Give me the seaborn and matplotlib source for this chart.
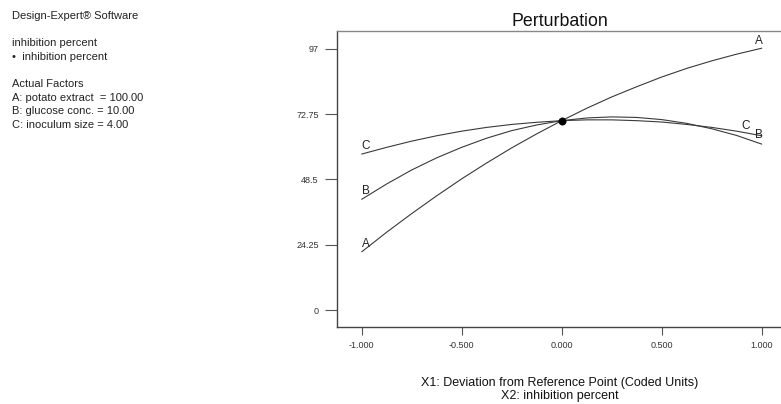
import seaborn as sns
import pandas as pd
import matplotlib.pyplot as plt

# deviation from reference point (coded units)
deviation = [-1.0, -0.875, -0.75, -0.625, -0.5, -0.375, -0.25, -0.125, 0.0,
             0.125, 0.25, 0.375, 0.5, 0.625, 0.75, 0.875, 1.0]
# inhibition percent
factor_a = [21.6, 28.9, 35.8, 42.4, 48.7, 54.6, 60.2, 65.4, 70.3,
            74.9, 79.1, 82.9, 86.5, 89.7, 92.5, 95.0, 97.2]
factor_b = [41.1, 46.8, 52.0, 56.5, 60.4, 63.8, 66.6, 68.7, 70.3,
            71.3, 71.7, 71.5, 70.7, 69.3, 67.3, 64.8, 61.6]
factor_c = [57.9, 60.4, 62.7, 64.7, 66.4, 67.8, 68.9, 69.7, 70.3,
            70.6, 70.6, 70.3, 69.8, 68.9, 67.8, 66.4, 64.7]
ref_x = [0.0]
ref_y = [70.3]
y_ticks = [0, 24.25, 48.5, 72.75, 97]
y_tick_labels = ['0', '24.25', '48.5', '72.75', '97']
x_ticks = [-1.0, -0.5, 0.0, 0.5, 1.0]
x_tick_labels = ['-1.000', '-0.500', '0.000', '0.500', '1.000']

n = len(deviation)
df = pd.DataFrame({
    'x': deviation * 3,
    'y': factor_a + factor_b + factor_c,
    'factor': ['A'] * n + ['B'] * n + ['C'] * n,
})

sns.set_style('white')
plt.rcParams['font.family'] = ['Liberation Sans', 'DejaVu Sans']

fig = plt.figure(figsize=(7.81, 4.04), dpi=100)
ax = fig.add_axes([0.4311, 0.1913, 0.5689, 0.7327])

sns.lineplot(data=df, x='x', y='y', units='factor', estimator=None,
             color='#3a3a3a', linewidth=0.8, ax=ax, legend=False)
sns.scatterplot(x=ref_x, y=ref_y, color='black', s=28, marker='o',
                edgecolor='black', zorder=5, ax=ax)

ax.set_xlim(-1.125, 1.0965)
ax.set_ylim(-6.2, 103.7)
ax.set_yticks(y_ticks)
ax.set_yticklabels(y_tick_labels)
ax.set_xticks(x_ticks)
ax.set_xticklabels(x_tick_labels)
ax.tick_params(axis='y', direction='out', length=9, width=0.8, color='#555555',
               labelsize=6.5, labelcolor='#333333', pad=4, left=True)
ax.tick_params(axis='x', direction='out', length=6, width=0.8, color='#555555',
               labelsize=6.5, labelcolor='#333333', pad=4, bottom=True)
for side in ['left', 'bottom']:
    ax.spines[side].set_color('#444444')
    ax.spines[side].set_linewidth(1.0)
ax.spines['top'].set_color('#888888')
ax.spines['top'].set_linewidth(1.0)
ax.spines['right'].set_visible(False)
ax.set_xlabel('')
ax.set_ylabel('')

# curve labels at both ends
lab = dict(fontsize=8.5, color='#222222', ha='center', va='bottom')
ax.text(-0.98, factor_a[0] + 0.8, 'A', **lab)
ax.text(-0.98, factor_b[0] + 0.8, 'B', **lab)
ax.text(-0.98, factor_c[0] + 0.8, 'C', **lab)
ax.text(0.985, factor_a[-1] + 0.4, 'A', **lab)
ax.text(0.985, factor_b[-1] + 1.1, 'B', **lab)
ax.text(0.92, factor_c[-1] + 1.4, 'C', **lab)

fig.text(560 / 781, 1 - 21 / 404, 'Perturbation', fontsize=12.8,
         ha='center', va='center', color='#111111')
fig.text(560 / 781, 1 - 383 / 404,
         'X1: Deviation from Reference Point (Coded Units)',
         fontsize=9, ha='center', va='center', color='#111111')
fig.text(560 / 781, 1 - 396 / 404, 'X2: inhibition percent',
         fontsize=9, ha='center', va='center', color='#111111')

side_lines = [
    (16, 'Design-Expert® Software'),
    (43, 'inhibition percent'),
    (57, '•  inhibition percent'),
    (84, 'Actual Factors'),
    (98, 'A: potato extract  = 100.00'),
    (111, 'B: glucose conc. = 10.00'),
    (125, 'C: inoculum size = 4.00'),
]
for ypx, txt in side_lines:
    fig.text(12 / 781, 1 - ypx / 404, txt, fontsize=8, ha='left',
             va='center', color='#222222')

fig.savefig('out.png', dpi=100)
